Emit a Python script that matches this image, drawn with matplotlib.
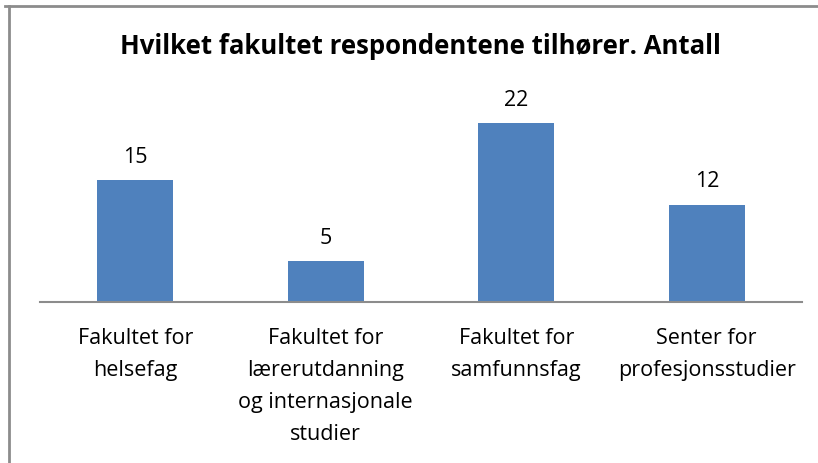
import matplotlib.pyplot as plt
from matplotlib.lines import Line2D

# Data
kategorier = ["Fakultet for\nhelsefag",
              "Fakultet for\nlærerutdanning\nog internasjonale\nstudier",
              "Fakultet for\nsamfunnsfag",
              "Senter for\nprofesjonsstudier"]
antall = [15, 5, 22, 12]

plt.rcParams['font.family'] = ['Open Sans', 'DejaVu Sans']

W, H = 818, 463
fig = plt.figure(figsize=(W / 100, H / 100), dpi=100)
ax = fig.add_axes([40 / W, 1 - 302 / H, 762 / W, 203 / H])

x = range(len(kategorier))
ax.bar(x, antall, width=0.4, color='#4F81BD')
ax.set_xlim(-0.5, len(kategorier) - 0.5)
ax.set_ylim(0, 25)

for i, v in zip(x, antall):
    ax.text(i, v + 1.5, str(v), ha='center', va='bottom', fontsize=15.5)

ax.set_xticks(list(x))
ax.set_xticklabels(kategorier, fontsize=15.5, linespacing=1.68, va='top')
ax.tick_params(axis='x', length=0, pad=19)
ax.set_yticks([])
for s in ['top', 'right', 'left']:
    ax.spines[s].set_visible(False)
ax.spines['bottom'].set_color('#8c8c8c')
ax.spines['bottom'].set_linewidth(1.5)

fig.text(420 / W, 1 - 46 / H, "Hvilket fakultet respondentene tilhører. Antall",
         ha='center', va='center', fontsize=18.5, fontweight='bold')

# chart border (top and left only visible)
fig.add_artist(Line2D([5 / W, 1], [1 - 5.5 / H, 1 - 5.5 / H], color='#8c8c8c', lw=2))
fig.add_artist(Line2D([8.5 / W, 8.5 / W], [0, 1 - 5.5 / H], color='#8c8c8c', lw=2))

fig.savefig("out.png", dpi=100)
